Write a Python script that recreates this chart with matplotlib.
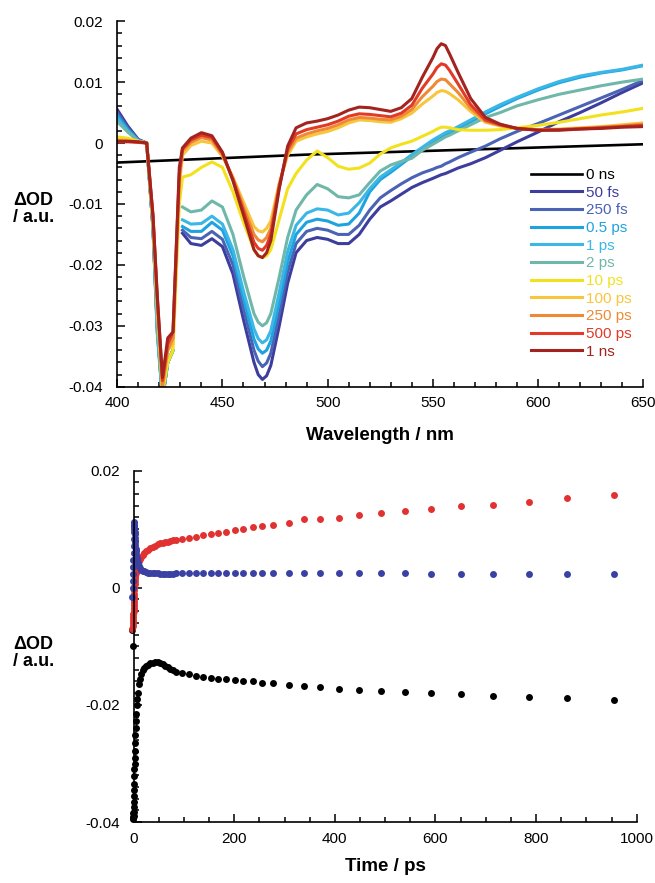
import numpy as np
import matplotlib
matplotlib.use("Agg")
from matplotlib import pyplot as plt
from matplotlib.ticker import MultipleLocator, FuncFormatter

plt.rcParams['font.family'] = ['Liberation Sans', 'DejaVu Sans']
plt.rcParams['axes.unicode_minus'] = False

nan = np.nan

# transient spectra, delta OD vs probe wavelength (nm)
wl = [400, 405, 410, 414, 417, 419, 421.5, 424, 426.5, 429.5,
      431, 435, 440, 445, 450, 455, 460, 465, 467, 469, 471, 473,
      477, 481, 485, 490, 495, 500, 505, 510, 515, 520,
      525, 530, 535, 540, 545, 550, 552, 554, 556, 558, 562, 568,
      575, 582, 590, 600, 610, 620, 630, 640, 650]

wl_0ns = [400, 490, 650]
od_0ns = [-0.0032, -0.0019, -0.0002]

od_50fs = [0.0055, 0.0028, 0.0006, 0.0, -0.014, -0.030, -0.042, -0.036, -0.034, nan,
           -0.0148, -0.0165, -0.0168, -0.0157, -0.0170, -0.0215, -0.0290, -0.0360, -0.0380, -0.0388, -0.0382, -0.0365,
           -0.0300, -0.0230, -0.0180, -0.0160, -0.0155, -0.0158, -0.0165, -0.0165, -0.0150, -0.0125,
           -0.0105, -0.0095, -0.0084, -0.0073, -0.0065, -0.0058, -0.0055, -0.0052, -0.0050, -0.0047, -0.0041, -0.0034,
           -0.0024, -0.0012, 0.0002, 0.0018, 0.0035, 0.0050, 0.0066, 0.0083, 0.0099]
od_250fs = [0.0050, 0.0025, 0.0005, 0.0, -0.014, -0.030, -0.042, -0.036, -0.034, nan,
            -0.0143, -0.0155, -0.0157, -0.0145, -0.0158, -0.0200, -0.0272, -0.0340, -0.0358, -0.0367, -0.0361, -0.0345,
            -0.0280, -0.0212, -0.0165, -0.0145, -0.0140, -0.0143, -0.0150, -0.0150, -0.0135, -0.0110,
            -0.0090, -0.0078, -0.0067, -0.0057, -0.0049, -0.0043, -0.0040, -0.0038, -0.0034, -0.0031, -0.0024, -0.0015,
            -0.0005, 0.0007, 0.0019, 0.0032, 0.0046, 0.0060, 0.0074, 0.0088, 0.0103]
od_05ps = [0.0045, 0.0022, 0.0004, 0.0, -0.014, -0.031, -0.042, -0.036, -0.034, nan,
           -0.0137, -0.0145, -0.0145, -0.0130, -0.0143, -0.0185, -0.0255, -0.0322, -0.0338, -0.0345, -0.0340, -0.0325,
           -0.0262, -0.0195, -0.0150, -0.0130, -0.0125, -0.0128, -0.0135, -0.0133, -0.0115, -0.0080,
           -0.0060, -0.0048, -0.0035, -0.0022, -0.0010, 0.0002, 0.0006, 0.0010, 0.0014, 0.0017, 0.0024, 0.0035,
           0.0048, 0.0060, 0.0073, 0.0087, 0.0099, 0.0108, 0.0115, 0.0120, 0.0127]
od_1ps = [0.0040, 0.0020, 0.0004, 0.0, -0.014, -0.031, -0.042, -0.036, -0.034, nan,
          -0.0126, -0.0133, -0.0132, -0.0120, -0.0133, -0.0175, -0.0243, -0.0305, -0.0321, -0.0328, -0.0323, -0.0308,
          -0.0245, -0.0178, -0.0135, -0.0115, -0.0108, -0.0110, -0.0118, -0.0115, -0.0098, -0.0075,
          -0.0056, -0.0044, -0.0032, -0.0019, -0.0007, 0.0005, 0.0009, 0.0013, 0.0017, 0.0020, 0.0027, 0.0038,
          0.0051, 0.0063, 0.0075, 0.0089, 0.0101, 0.0110, 0.0116, 0.0121, 0.0128]
od_2ps = [0.0035, 0.0018, 0.0003, 0.0, -0.014, -0.030, -0.042, -0.036, -0.034, nan,
          -0.0105, -0.0113, -0.0110, -0.0095, -0.0105, -0.0150, -0.0218, -0.0280, -0.0294, -0.0300, -0.0295, -0.0280,
          -0.0220, -0.0155, -0.0110, -0.0085, -0.0068, -0.0075, -0.0088, -0.0090, -0.0085, -0.0065,
          -0.0046, -0.0036, -0.0030, -0.0025, -0.0012, -0.0002, 0.0002, 0.0006, 0.0010, 0.0013, 0.0020, 0.0030,
          0.0042, 0.0050, 0.0061, 0.0071, 0.0080, 0.0087, 0.0094, 0.0100, 0.0105]
od_10ps = [0.0010, 0.0008, 0.0003, 0.0, -0.013, -0.027, -0.041, -0.036, -0.034, -0.010,
           -0.0056, -0.0052, -0.0040, -0.0031, -0.0040, -0.0080, -0.0130, -0.0175, -0.0185, -0.0188, -0.0185, -0.0175,
           -0.0125, -0.0075, -0.0050, -0.0028, -0.0013, -0.0024, -0.0038, -0.0043, -0.0041, -0.0033,
           -0.0018, -0.0008, -0.0002, 0.0003, 0.0011, 0.0019, 0.0023, 0.0026, 0.0026, 0.0025, 0.0022, 0.0021,
           0.0021, 0.0022, 0.0025, 0.0029, 0.0034, 0.0040, 0.0046, 0.0051, 0.0057]
od_100ps = [0.0006, 0.0005, 0.0003, 0.0, -0.013, -0.026, -0.040, -0.034, -0.033, -0.007,
            -0.0020, -0.0004, 0.0003, 0.0000, -0.0022, -0.0056, -0.0097, -0.0137, -0.0144, -0.0146, -0.0140, -0.0128,
            -0.0066, -0.0020, 0.0003, 0.0010, 0.0015, 0.0019, 0.0025, 0.0033, 0.0038, 0.0037,
            0.0035, 0.0034, 0.0040, 0.0049, 0.0064, 0.0077, 0.0083, 0.0086, 0.0085, 0.0081, 0.0071, 0.0052,
            0.0034, 0.0028, 0.0024, 0.0022, 0.0023, 0.0025, 0.0027, 0.0030, 0.0033]
od_250ps = [0.0004, 0.0003, 0.0002, 0.0, -0.012, -0.026, -0.040, -0.034, -0.032, -0.006,
            -0.0013, 0.0001, 0.0009, 0.0005, -0.0019, -0.0058, -0.0105, -0.0150, -0.0159, -0.0162, -0.0155, -0.0140,
            -0.0068, -0.0015, 0.0008, 0.0015, 0.0020, 0.0024, 0.0030, 0.0038, 0.0042, 0.0041,
            0.0039, 0.0038, 0.0044, 0.0055, 0.0076, 0.0093, 0.0101, 0.0105, 0.0104, 0.0097, 0.0083, 0.0057,
            0.0036, 0.0029, 0.0024, 0.0022, 0.0022, 0.0024, 0.0026, 0.0028, 0.0031]
od_500ps = [0.0002, 0.0002, 0.0001, 0.0, -0.012, -0.025, -0.039, -0.033, -0.031, -0.005,
            -0.0010, 0.0005, 0.0013, 0.0009, -0.0017, -0.0060, -0.0112, -0.0163, -0.0173, -0.0176, -0.0168, -0.0150,
            -0.0072, -0.0010, 0.0015, 0.0022, 0.0026, 0.0030, 0.0036, 0.0044, 0.0048, 0.0047,
            0.0045, 0.0043, 0.0049, 0.0062, 0.0090, 0.0113, 0.0124, 0.0130, 0.0128, 0.0119, 0.0097, 0.0063,
            0.0038, 0.0030, 0.0024, 0.0021, 0.0022, 0.0023, 0.0025, 0.0027, 0.0029]
od_1ns = [0.0003, 0.0003, 0.0002, 0.0, -0.012, -0.025, -0.0385, -0.032, -0.031, -0.004,
          -0.0008, 0.0008, 0.0017, 0.0012, -0.0015, -0.0062, -0.0118, -0.0175, -0.0185, -0.0188, -0.0180, -0.0160,
          -0.0075, -0.0005, 0.0025, 0.0033, 0.0036, 0.0040, 0.0046, 0.0054, 0.0059, 0.0058,
          0.0055, 0.0052, 0.0058, 0.0073, 0.0108, 0.0140, 0.0155, 0.0163, 0.0160, 0.0146, 0.0116, 0.0073,
          0.0042, 0.0031, 0.0024, 0.0021, 0.0021, 0.0023, 0.0024, 0.0026, 0.0027]

labels = ['0 ns', '50 fs', '250 fs', '0.5 ps', '1 ps', '2 ps',
          '10 ps', '100 ps', '250 ps', '500 ps', '1 ns']
colors = ['black', '#3d3d9e', '#4a63b5', '#1fa3de', '#3ab7e6', '#6fb8a9',
          '#f2e21e', '#f7c63c', '#ee8a35', '#e23a26', '#a3241f']

# kinetic traces, delta OD vs delay (ps)
t_ps = [-3, -2, -1, -0.7, -0.5, -0.3, 0, 0.15, 0.3, 0.45, 0.6, 0.8, 1, 1.25, 1.5, 1.75,
        2, 2.5, 3, 3.5, 4, 4.5, 5, 6, 7, 8,
        10, 12, 15, 18, 21, 25, 29, 33, 38, 43, 48, 53, 58, 63, 68, 73, 78,
        85, 97, 110, 124, 138, 153, 168, 184, 201, 218, 237, 256, 277,
        309, 339, 371, 408, 448, 492, 540, 592, 650, 715, 785, 862, 955]
kin_black = [-0.0072, -0.0100, -0.0385, -0.0392, -0.0395, -0.0393, -0.0390, -0.0383, -0.0375,
             -0.0365, -0.0355, -0.0345, -0.0335, -0.0322, -0.0310, -0.0300,
             -0.0290, -0.0278, -0.0265, -0.0252, -0.0240, -0.0227, -0.0215, -0.0200, -0.0190, -0.0180,
             -0.0165, -0.0155, -0.0147, -0.0141, -0.0137, -0.0134, -0.0131, -0.0129, -0.0128,
             -0.0127, -0.0127, -0.0128, -0.0130, -0.0133, -0.0136, -0.0139, -0.0141,
             -0.0143, -0.0146, -0.0148, -0.0150, -0.0152, -0.0154, -0.0155, -0.0156, -0.0157,
             -0.0159, -0.0160, -0.0162, -0.0163,
             -0.0166, -0.0168, -0.0170, -0.0172, -0.0174, -0.0176, -0.0178, -0.0180, -0.0182,
             -0.0184, -0.0186, -0.0189, -0.0192]
kin_red = [-0.0070, -0.0065, -0.0060, -0.0055, -0.0050, -0.0045, -0.0040, -0.0035, -0.0030,
           -0.0025, -0.0020, -0.0015, -0.0010, -0.0004, 0.0002, 0.0007,
           0.0012, 0.0016, 0.0020, 0.0023, 0.0026, 0.0029, 0.0031, 0.0035, 0.0038, 0.0040,
           0.0045, 0.0049, 0.0053, 0.0056, 0.0059, 0.0062, 0.0065, 0.0068, 0.0070,
           0.0072, 0.0074, 0.0076, 0.0077, 0.0078, 0.0079, 0.0080, 0.0081,
           0.0082, 0.0083, 0.0085, 0.0087, 0.0090, 0.0092, 0.0094, 0.0096, 0.0099,
           0.0101, 0.0104, 0.0106, 0.0108,
           0.0111, 0.0117, 0.0117, 0.0119, 0.0124, 0.0128, 0.0131, 0.0135, 0.0139,
           0.0142, 0.0146, 0.0154, 0.0158]
kin_blue = [-0.0015, 0.0000, 0.0012, 0.0024, 0.0036, 0.0048, 0.0060, 0.0072, 0.0084,
            0.0096, 0.0106, 0.0112, 0.0110, 0.0106, 0.0101, 0.0096,
            0.0091, 0.0085, 0.0079, 0.0073, 0.0067, 0.0062, 0.0057, 0.0050, 0.0046, 0.0042,
            0.0037, 0.0034, 0.0031, 0.0029, 0.0028, 0.0027, 0.0026, 0.0026, 0.0025,
            0.0025, 0.0025, 0.0024, 0.0024, 0.0024, 0.0024, 0.0024, 0.0024,
            0.0025, 0.0025, 0.0025, 0.0025, 0.0025, 0.0025, 0.0025, 0.0025, 0.0025,
            0.0025, 0.0025, 0.0025, 0.0025,
            0.0026, 0.0026, 0.0026, 0.0026, 0.0025, 0.0025, 0.0025, 0.0024, 0.0024,
            0.0024, 0.0023, 0.0024, 0.0023]


def od_format(v, pos):
    if abs(v) < 1e-9:
        return '0'
    return '%.2f' % v


def style_axes(axes):
    for side in ('top', 'right'):
        axes.spines[side].set_visible(False)
    for side in ('left', 'bottom'):
        axes.spines[side].set_linewidth(1.2)
    axes.tick_params(which='both', direction='in', labelsize=11, width=1.1)
    axes.tick_params(which='major', length=6)
    axes.tick_params(which='minor', length=3.5)
    axes.tick_params(axis='x', pad=7)
    axes.tick_params(axis='y', pad=10)
    axes.yaxis.set_major_formatter(FuncFormatter(od_format))


fig = plt.figure(figsize=(6.55, 8.83), dpi=100)
ax1 = fig.add_axes([0.179, 0.562, 0.803, 0.414])
ax2 = fig.add_axes([0.204, 0.069, 0.768, 0.398])

# spectra
ax1.plot(wl_0ns, od_0ns, color=colors[0], lw=1.9, label=labels[0])
spectra = [od_50fs, od_250fs, od_05ps, od_1ps, od_2ps,
           od_10ps, od_100ps, od_250ps, od_500ps, od_1ns]
for od, lab, col in zip(spectra, labels[1:], colors[1:]):
    ax1.plot(wl, od, color=col, lw=2.2, label=lab, solid_joinstyle='round')

ax1.set_xlim(400, 650)
ax1.set_ylim(-0.04, 0.02)
ax1.xaxis.set_major_locator(MultipleLocator(50))
ax1.xaxis.set_minor_locator(MultipleLocator(10))
ax1.yaxis.set_major_locator(MultipleLocator(0.01))
ax1.yaxis.set_minor_locator(MultipleLocator(0.002))
style_axes(ax1)
ax1.set_xlabel('Wavelength / nm', fontsize=13.5, fontweight='bold', labelpad=12)

leg = ax1.legend(loc='upper left', bbox_to_anchor=(0.787, 0.598),
                 bbox_transform=ax1.transAxes, frameon=False, fontsize=11,
                 handlelength=3.3, handletextpad=0.3, labelspacing=0.24,
                 borderpad=0, borderaxespad=0)
for txt, col in zip(leg.get_texts(), colors):
    txt.set_color(col)

# kinetics
ax2.plot(t_ps, kin_black, 'o', color='black', ms=5, mew=0, clip_on=False)
ax2.plot(t_ps, kin_red, 'o', color='#e03331', ms=5, mew=0, clip_on=False)
ax2.plot(t_ps, kin_blue, 'o', color='#3a41a3', ms=5, mew=0, clip_on=False)

ax2.set_xlim(0, 1000)
ax2.set_ylim(-0.04, 0.02)
ax2.xaxis.set_major_locator(MultipleLocator(200))
ax2.xaxis.set_minor_locator(MultipleLocator(50))
ax2.yaxis.set_major_locator(MultipleLocator(0.02))
ax2.yaxis.set_minor_locator(MultipleLocator(0.002))
style_axes(ax2)
ax2.set_xlabel('Time / ps', fontsize=13.5, fontweight='bold', labelpad=9)

fig.text(0.02, 1 - 209 / 883, '\u0394OD\n/ a.u.', fontsize=13, fontweight='bold',
         ha='left', va='center', linespacing=1.0)
fig.text(0.02, 1 - 653 / 883, '\u0394OD\n/ a.u.', fontsize=13, fontweight='bold',
         ha='left', va='center', linespacing=1.0)

fig.savefig('out.png', dpi=100)
